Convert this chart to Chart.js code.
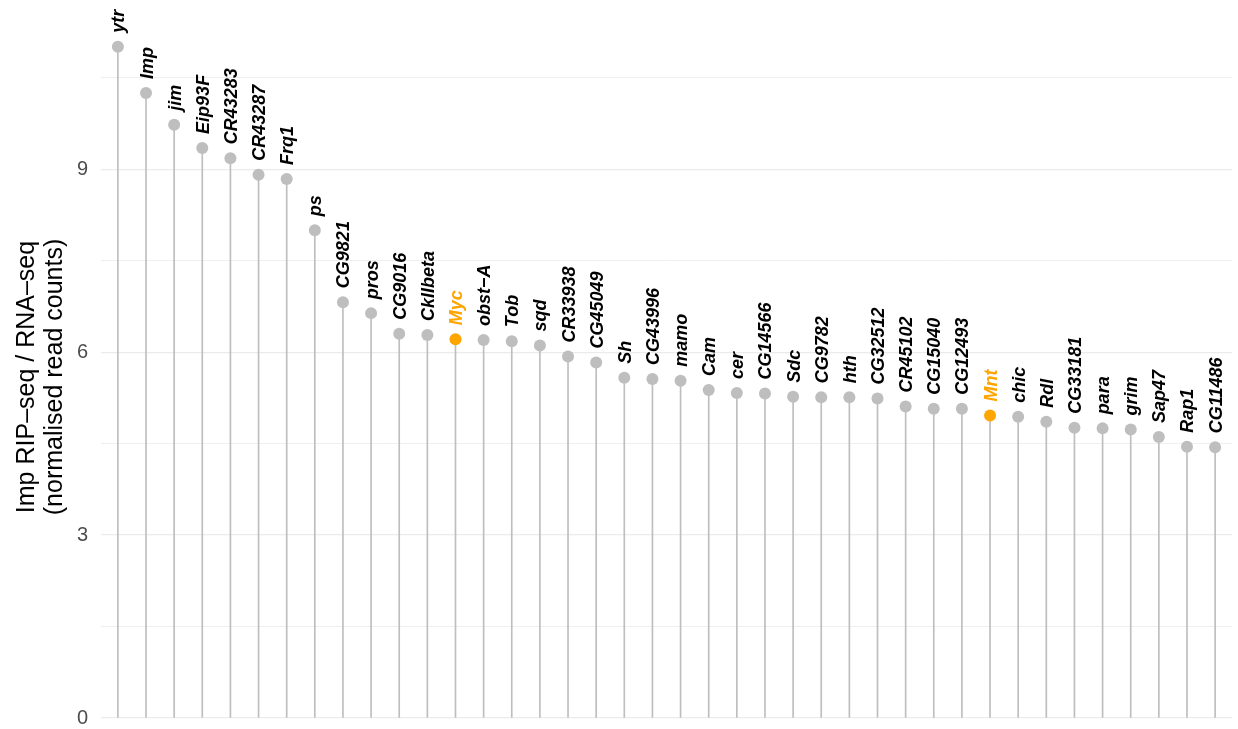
<!DOCTYPE html>
<html>
<head>
<meta charset="utf-8">
<script src="https://cdn.jsdelivr.net/npm/chart.js@4.4.1/dist/chart.umd.min.js"></script>
<style>
  html, body { margin: 0; padding: 0; background: #ffffff; }
  #wrap { width: 1238px; height: 729px; position: relative; }
</style>
</head>
<body>
<div id="wrap"><canvas id="c" width="1238" height="729"></canvas></div>
<script>
const genes = ["ytr","Imp","jim","Eip93F","CR43283","CR43287","Frq1","ps","CG9821","pros",
  "CG9016","CkIIbeta","Myc","obst\u2212A","Tob","sqd","CR33938","CG45049","Sh","CG43996",
  "mamo","Cam","cer","CG14566","Sdc","CG9782","hth","CG32512","CR45102","CG15040",
  "CG12493","Mnt","chic","Rdl","CG33181","para","grim","Sap47","Rap1","CG11486"];
const ratios = [11.01,10.25,9.73,9.35,9.18,8.91,8.84,8.00,6.82,6.64,
  6.30,6.28,6.21,6.20,6.18,6.11,5.93,5.83,5.58,5.56,
  5.53,5.38,5.33,5.32,5.27,5.26,5.26,5.24,5.11,5.07,
  5.07,4.96,4.94,4.86,4.76,4.75,4.73,4.61,4.45,4.44];
const highlighted = ["Myc","Mnt"];
const yTicks = [0,3,6,9];
const yTitle = ["Imp RIP\u2013seq / RNA\u2013seq", "(normalised read counts)"];

const GREY = "#BEBEBE";
const ORANGE = "#FFA500";
const colors = genes.map(g => highlighted.includes(g) ? ORANGE : GREY);
const pts = ratios.map((v, i) => ({x: i, y: v}));

const labelPlugin = {
  id: 'geneLabels',
  afterDatasetsDraw(chart) {
    const ctx = chart.ctx;
    const xs = chart.scales.x, ys = chart.scales.y;
    ctx.save();
    ctx.font = "italic bold 18px 'Liberation Sans', Arial, sans-serif";
    ctx.textAlign = 'left';
    ctx.textBaseline = 'alphabetic';
    genes.forEach((g, i) => {
      const px = xs.getPixelForValue(i);
      const py = ys.getPixelForValue(ratios[i]);
      ctx.save();
      ctx.translate(px, py - 14);
      ctx.rotate(-Math.PI / 2);
      ctx.fillStyle = highlighted.includes(g) ? ORANGE : '#000000';
      ctx.fillText(g, 0, 6.5);
      ctx.restore();
    });
    ctx.restore();
  }
};

new Chart(document.getElementById('c'), {
  data: {
    datasets: [
      {
        type: 'bar',
        data: pts,
        backgroundColor: GREY,
        borderWidth: 0,
        barThickness: 1,
        order: 2
      },
      {
        type: 'scatter',
        data: pts,
        pointRadius: 6,
        pointHoverRadius: 6,
        pointBackgroundColor: colors,
        pointBorderWidth: 0,
        order: 1
      }
    ]
  },
  options: {
    responsive: false,
    animation: false,
    events: [],
    layout: { padding: { top: 36, bottom: 11, right: 6, left: 0 } },
    plugins: { legend: { display: false }, tooltip: { enabled: false } },
    scales: {
      x: {
        type: 'linear',
        offset: false,
        min: -0.6,
        max: genes.length - 1 + 0.6,
        display: false,
        grid: { display: false }
      },
      y: {
        type: 'linear',
        min: 0,
        max: 11.185,
        border: { display: false },
        afterFit(scale) {
          scale.width = 101;
          scale.paddingTop = 0;
          scale.paddingBottom = 0;
        },
        afterBuildTicks(scale) {
          const t = [];
          for (let v = 0; v <= 10.5; v += 1.5) t.push({value: v});
          scale.ticks = t;
        },
        grid: {
          drawTicks: false,
          color: '#EBEBEB',
          lineWidth: ctx => (yTicks.includes(ctx.tick && ctx.tick.value) ? 1.2 : 0.8)
        },
        ticks: {
          padding: 13,
          color: '#4D4D4D',
          font: { family: "'Liberation Sans', Arial, sans-serif", size: 20 },
          callback: v => (yTicks.includes(v) ? String(v) : '')
        },
        title: {
          display: true,
          text: yTitle,
          color: '#000000',
          font: { family: "'Liberation Sans', Arial, sans-serif", size: 25, lineHeight: 1.12 },
          padding: { top: 13, bottom: 0 }
        }
      }
    }
  },
  plugins: [labelPlugin]
});
</script>
</body>
</html>
